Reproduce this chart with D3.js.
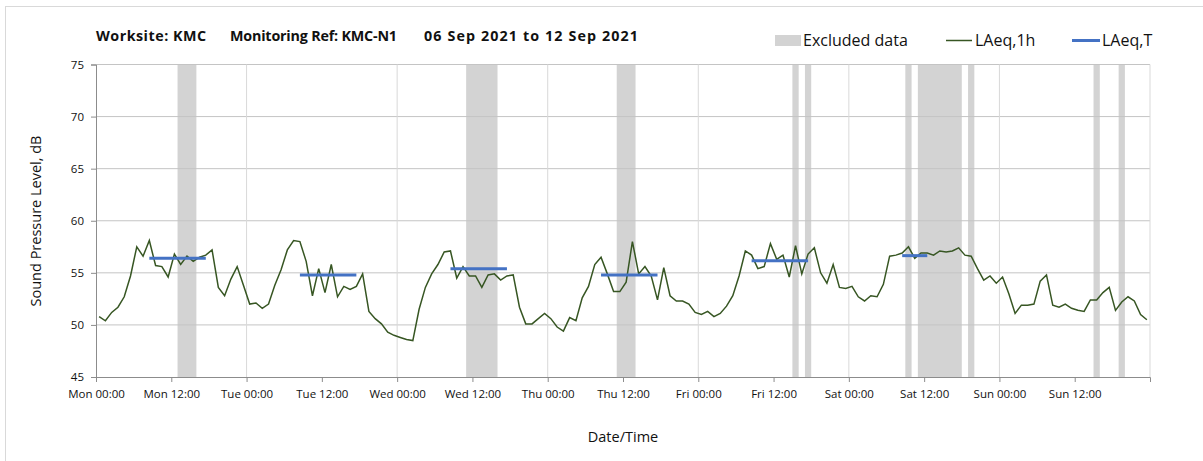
<!DOCTYPE html>
<html>
<head>
<meta charset="utf-8">
<script src="https://cdnjs.cloudflare.com/ajax/libs/d3/7.8.5/d3.min.js"></script>
<style>
body { margin: 0; background: #fff; font-family: "Open Sans", Lato, sans-serif; }
</style>
</head>
<body>
<svg id="chart" width="1203" height="461"></svg>
<script>
// hourly LAeq,1h, Mon 00:00 .. Sun 23:00
var laeq1h = [
  50.8, 50.4, 51.2, 51.7, 52.7, 54.7, 57.5, 56.6, 58.1, 55.7,
  55.6, 54.6, 56.8, 55.8, 56.6, 56.1, 56.5, 56.7, 57.2, 53.6,
  52.8, 54.4, 55.6, 53.8, 52.0, 52.1, 51.6, 52.0, 53.8, 55.3,
  57.2, 58.1, 58.0, 56.1, 52.8, 55.4, 53.1, 55.8, 52.7, 53.7,
  53.4, 53.7, 54.9, 51.3, 50.6, 50.1, 49.3, 49.0, 48.8, 48.6,
  48.5, 51.5, 53.6, 54.9, 55.8, 57.0, 57.1, 54.5, 55.6, 54.7,
  54.7, 53.6, 54.8, 54.9, 54.3, 54.7, 54.8, 51.7, 50.1, 50.1,
  50.6, 51.1, 50.6, 49.8, 49.4, 50.7, 50.4, 52.6, 53.7, 55.8,
  56.5, 54.9, 53.2, 53.2, 54.1, 58.0, 54.9, 55.6, 54.7, 52.4,
  55.5, 52.8, 52.3, 52.3, 52.0, 51.2, 51.0, 51.3, 50.8, 51.1,
  51.8, 52.8, 54.7, 57.1, 56.7, 55.4, 55.6, 57.8, 56.3, 56.7,
  54.6, 57.6, 54.9, 56.8, 57.4, 55.0, 54.0, 55.8, 53.6, 53.5,
  53.7, 52.7, 52.3, 52.8, 52.7, 53.9, 56.6, 56.7, 56.9, 57.5,
  56.4, 56.9, 56.9, 56.7, 57.1, 57.0, 57.1, 57.4, 56.7, 56.6,
  55.4, 54.3, 54.7, 54.0, 54.6, 53.0, 51.1, 51.9, 51.9, 52.0,
  54.2, 54.8, 51.9, 51.7, 52.0, 51.6, 51.4, 51.3, 52.4, 52.4,
  53.1, 53.6, 51.4, 52.2, 52.7, 52.3, 51.0, 50.5
];

// LAeq,T periods (hour index of first and last hourly value)
var periodStart = [8, 32, 56, 80, 104, 128];
var periodEnd = [17, 41, 65, 89, 113, 132];
var periodValue = [56.4, 54.8, 55.4, 54.8, 56.15, 56.65];

// excluded data, hours from Mon 00:00
var exclStart = [13, 59, 83, 111, 113, 129, 131, 139, 159, 163];
var exclEnd = [16, 64, 86, 112, 114, 130, 138, 140, 160, 164];

var xTickHours = [0, 12, 24, 36, 48, 60, 72, 84, 96, 108, 120, 132, 144, 156];
var xTickLabels = ['Mon 00:00', 'Mon 12:00', 'Tue 00:00', 'Tue 12:00', 'Wed 00:00', 'Wed 12:00',
  'Thu 00:00', 'Thu 12:00', 'Fri 00:00', 'Fri 12:00', 'Sat 00:00', 'Sat 12:00', 'Sun 00:00', 'Sun 12:00'];
var yTicks = [45, 50, 55, 60, 65, 70, 75];
var gridHours = [24, 48, 72, 96, 120, 144, 168];

var svg = d3.select('#chart');
var pLeft = 96, pRight = 1150, pTop = 64.5, pBottom = 377;

var x = d3.scaleLinear().domain([0, 168]).range([pLeft, pRight]);
var y = d3.scaleLinear().domain([45, 75]).range([pBottom, pTop]);

// outer frame
svg.append('rect').attr('x', 5.5).attr('y', 6.5).attr('width', 1300).attr('height', 600)
  .attr('fill', 'none').attr('stroke', '#d9d9d9');

// excluded bands
svg.selectAll('.excl').data(exclStart).enter().append('rect')
  .attr('class', 'excl')
  .attr('x', function(d) { return x(d); })
  .attr('width', function(d, i) { return x(exclEnd[i]) - x(d); })
  .attr('y', pTop).attr('height', pBottom - pTop)
  .attr('fill', '#d3d3d3');

// grid
svg.selectAll('.hgrid').data(yTicks.slice(1)).enter().append('line')
  .attr('x1', pLeft).attr('x2', pRight)
  .attr('y1', function(d) { return y(d); }).attr('y2', function(d) { return y(d); })
  .attr('stroke', '#c4c4c4').attr('stroke-width', 1);
svg.selectAll('.vgrid').data(gridHours).enter().append('line')
  .attr('x1', function(d) { return x(d); }).attr('x2', function(d) { return x(d); })
  .attr('y1', pTop).attr('y2', pBottom)
  .attr('stroke', '#d9d9d9').attr('stroke-width', 1);

// axes
var yAxis = d3.axisLeft(y).tickValues(yTicks).tickSize(5).tickPadding(7);
var yg = svg.append('g').attr('transform', 'translate(' + pLeft + ',0)').call(yAxis);
var xAxis = d3.axisBottom(x).tickValues(xTickHours)
  .tickFormat(function(d, i) { return xTickLabels[i]; }).tickSize(5).tickPadding(8);
var xg = svg.append('g').attr('transform', 'translate(0,' + pBottom + ')').call(xAxis);
[yg, xg].forEach(function(g) {
  g.select('.domain').attr('stroke', '#8c8c8c');
  g.selectAll('.tick line').attr('stroke', '#8c8c8c');
  g.selectAll('text').attr('fill', '#111').style('font-size', '11.5px')
    .style('font-family', '"Open Sans", sans-serif');
});

// hourly line
var line = d3.line()
  .x(function(d, i) { return x(i + 0.5); })
  .y(function(d) { return y(d); });
svg.append('path').datum(laeq1h)
  .attr('d', line).attr('fill', 'none')
  .attr('stroke', '#375623').attr('stroke-width', 1.5);

// LAeq,T segments
svg.selectAll('.per').data(periodValue).enter().append('line')
  .attr('x1', function(d, i) { return x(periodStart[i] + 0.5); })
  .attr('x2', function(d, i) { return x(periodEnd[i] + 0.5); })
  .attr('y1', function(d) { return y(d); }).attr('y2', function(d) { return y(d); })
  .attr('stroke', '#4472c4').attr('stroke-width', 3);

// title
var titleParts = ['Worksite: KMC', 'Monitoring Ref: KMC-N1', '06 Sep 2021 to 12 Sep 2021'];
var titleX = [96, 230, 424];
var titleW = [110, 167, 214];
svg.selectAll('.title').data(titleParts).enter().append('text')
  .attr('x', function(d, i) { return titleX[i]; }).attr('y', 41)
  .attr('textLength', function(d, i) { return titleW[i]; })
  .attr('lengthAdjust', 'spacing')
  .style('font-weight', 'bold').style('font-size', '14.3px').attr('fill', '#111')
  .text(function(d) { return d; });

// axis titles
svg.append('text').attr('x', 623).attr('y', 442).attr('text-anchor', 'middle')
  .style('font-size', '14.5px').attr('fill', '#111').text('Date/Time');
svg.append('text').attr('transform', 'translate(41,221) rotate(-90)').attr('text-anchor', 'middle')
  .style('font-size', '14.5px').attr('fill', '#111').text('Sound Pressure Level, dB');

// legend
var lg = svg.append('g').style('font-size', '16px').attr('fill', '#111');
lg.append('rect').attr('x', 775).attr('y', 35).attr('width', 26).attr('height', 11).attr('fill', '#d3d3d3');
lg.append('text').attr('x', 803).attr('y', 46).text('Excluded data');
lg.append('line').attr('x1', 946).attr('x2', 972).attr('y1', 40.5).attr('y2', 40.5)
  .attr('stroke', '#375623').attr('stroke-width', 1.5);
lg.append('text').attr('x', 975).attr('y', 46).text('LAeq,1h');
lg.append('line').attr('x1', 1072).attr('x2', 1100).attr('y1', 40.5).attr('y2', 40.5)
  .attr('stroke', '#4472c4').attr('stroke-width', 3);
lg.append('text').attr('x', 1102).attr('y', 46).text('LAeq,T');
</script>
</body>
</html>
